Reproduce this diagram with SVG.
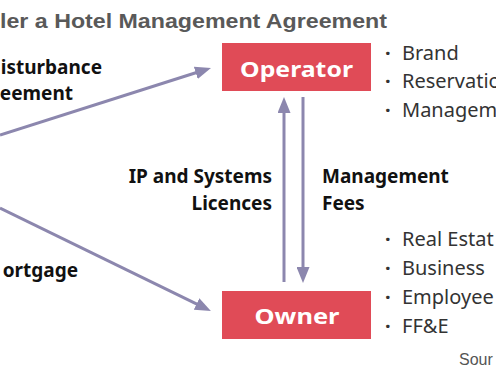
<svg xmlns="http://www.w3.org/2000/svg" width="496" height="380" viewBox="0 0 496 380">
<defs>
<marker id="ah" markerUnits="userSpaceOnUse" markerWidth="16" markerHeight="13" refX="5" refY="6.5" orient="auto">
<path d="M0,0 L16,6.5 L0,13 z" fill="#8C87AE"/>
</marker>
<style>
.title{font-family:"Liberation Sans",Arial,sans-serif;font-weight:bold;font-size:20px;fill:#595959}
.box{fill:#E04B57}
.boxt{font-family:"Noto Sans","Open Sans",sans-serif;font-weight:bold;font-size:22px;fill:#ffffff;text-anchor:middle}
.lbl{font-family:"Noto Sans","Open Sans",sans-serif;font-weight:bold;font-size:19px;fill:#111111}
.bul{font-family:"Noto Sans","Open Sans",sans-serif;font-size:20px;fill:#333333}
.dot{font-family:"Noto Sans","Open Sans",sans-serif;font-size:20px;fill:#333333;font-weight:bold}
.src{font-family:"Liberation Sans",Arial,sans-serif;font-size:16px;fill:#555555}
.conn{stroke:#8C87AE;stroke-width:3;fill:none;marker-end:url(#ah)}
</style>
</defs>
<rect width="496" height="380" fill="#ffffff"/>
<text class="title" x="0" y="28" textLength="387" lengthAdjust="spacingAndGlyphs">ler a Hotel Management Agreement</text>

<g id="connectors">
<line class="conn" x1="0" y1="135" x2="200.5" y2="71.3"/>
<line class="conn" x1="0" y1="208" x2="201" y2="306.2"/>
<line class="conn" x1="284" y1="282" x2="284" y2="108"/>
<line class="conn" x1="303" y1="97" x2="303" y2="272"/>
</g>

<g id="operator">
<rect class="box" x="222" y="43" width="149" height="48"/>
<text class="boxt" x="296.5" y="77" textLength="113" lengthAdjust="spacingAndGlyphs">Operator</text>
</g>
<g id="owner">
<rect class="box" x="222" y="291" width="149" height="48"/>
<text class="boxt" x="297" y="324" textLength="85" lengthAdjust="spacingAndGlyphs">Owner</text>
</g>

<g id="labels">
<text class="lbl" x="102" y="74" text-anchor="end">isturbance</text>
<text class="lbl" x="73" y="100" text-anchor="end">eement</text>
<text class="lbl" x="78" y="277" text-anchor="end">ortgage</text>
<text class="lbl" x="272" y="183" text-anchor="end">IP and Systems</text>
<text class="lbl" x="272" y="210" text-anchor="end">Licences</text>
<text class="lbl" x="322" y="183">Management</text>
<text class="lbl" x="322" y="210">Fees</text>
</g>

<g id="operator-list">
<text class="bul" y="60"><tspan class="dot" x="385">·</tspan><tspan x="402">Brand</tspan></text>
<text class="bul" y="88"><tspan class="dot" x="385">·</tspan><tspan x="402">Reservatio</tspan></text>
<text class="bul" y="117"><tspan class="dot" x="385">·</tspan><tspan x="402">Managem</tspan></text>
</g>
<g id="owner-list">
<text class="bul" y="246"><tspan class="dot" x="385">·</tspan><tspan x="402">Real Estat</tspan></text>
<text class="bul" y="275"><tspan class="dot" x="385">·</tspan><tspan x="402">Business</tspan></text>
<text class="bul" y="304"><tspan class="dot" x="385">·</tspan><tspan x="402">Employee</tspan></text>
<text class="bul" y="333"><tspan class="dot" x="385">·</tspan><tspan x="402">FF&amp;E</tspan></text>
</g>

<text class="src" x="459" y="365">Sour</text>
</svg>
